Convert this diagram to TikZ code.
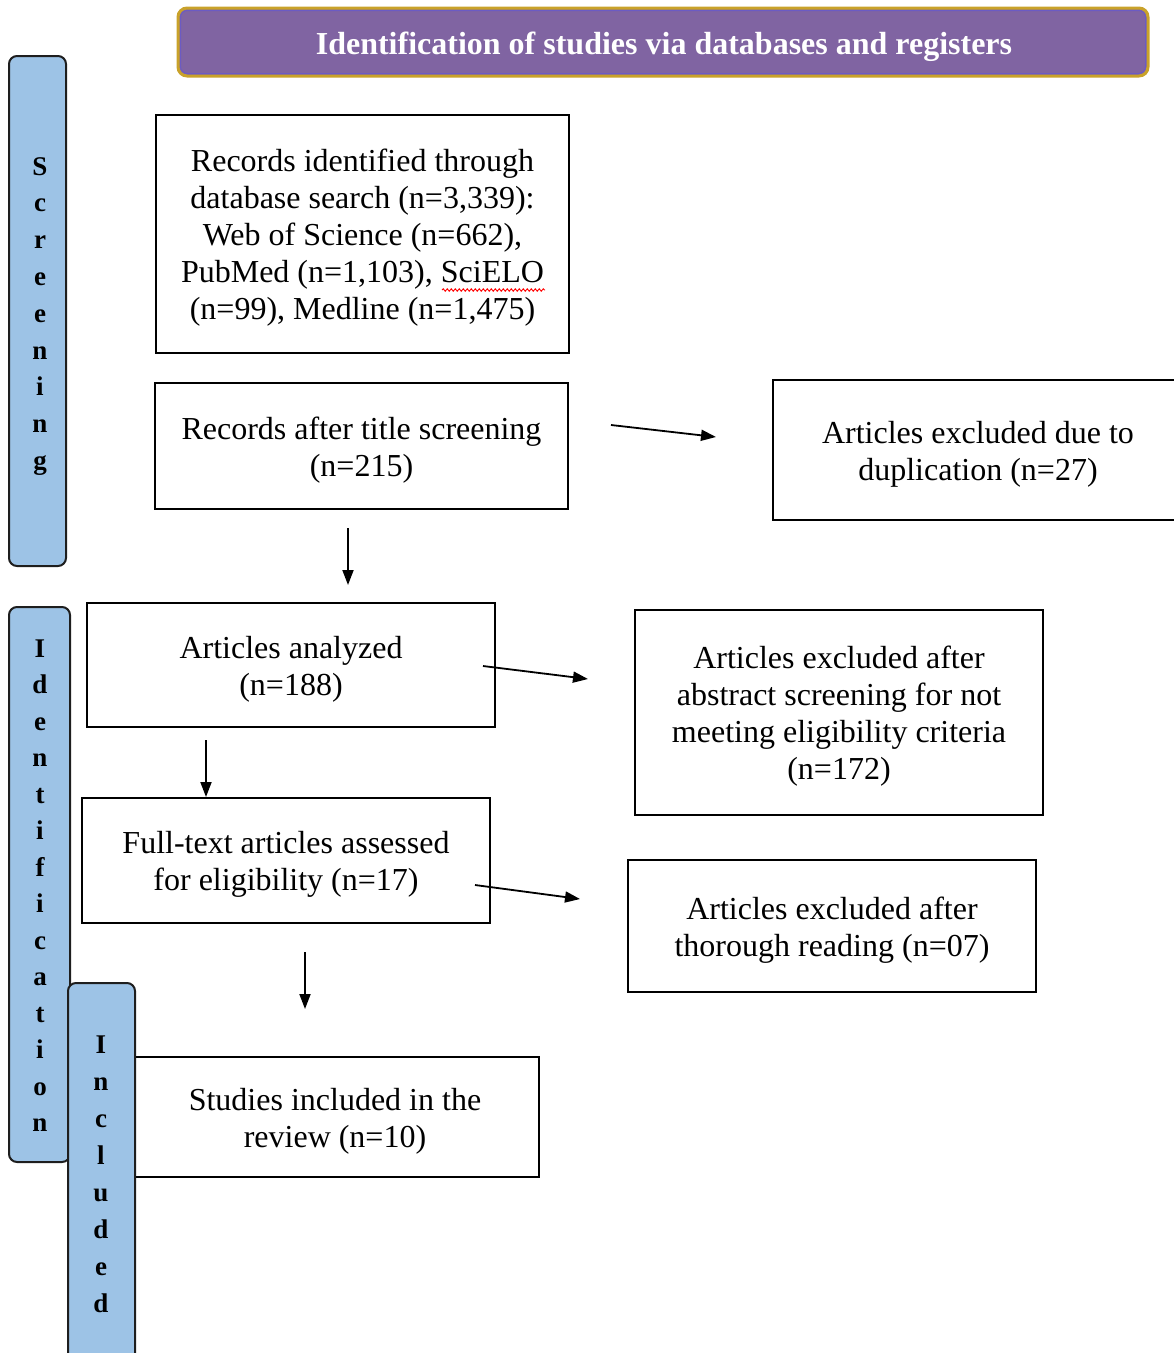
\documentclass[tikz,border=0pt]{standalone}
\usepackage{fontspec}
\setmainfont{Liberation Serif}
\usetikzlibrary{arrows.meta,decorations.pathmorphing}
\definecolor{hdrpurple}{HTML}{8064A2}
\definecolor{hdrgold}{HTML}{C9A22A}
\definecolor{hdrinner}{HTML}{6B5BC4}
\definecolor{barblue}{HTML}{9DC3E6}
\definecolor{barline}{HTML}{1E1E1E}
\newcommand{\boxlines}[1]{\raisebox{-4.5pt}[\height][\depth]{\begin{tabular}{@{}c@{}}#1\end{tabular}}}
\tikzset{
  box/.style={draw=black, line width=2pt, fill=white, align=center, inner sep=0pt,
    font=\fontsize{32}{37}\selectfont},
  sidebar/.style={draw=barline, line width=2pt, fill=barblue, rounded corners=8pt},
  barletter/.style={anchor=base, inner sep=0pt, font=\fontsize{27}{27}\bfseries\selectfont},
  flowarrow/.style={line width=1.8pt, -{Triangle[length=15pt,width=11pt]}},
}
\begin{document}
\begin{tikzpicture}[x=1pt,y=-1pt]
\useasboundingbox (0,0) rectangle (1174,1353);
\clip (0,0) rectangle (1174,1353);

% header
\draw[draw=hdrgold, line width=3pt, fill=hdrpurple, rounded corners=9pt] (178,8) rectangle (1148,76);
\draw[draw=hdrinner, line width=1pt, rounded corners=7pt] (180.5,10.5) rectangle (1145.5,73.5);
\node[text=white, inner sep=0pt, font=\fontsize{32}{32}\bfseries\selectfont] (hdr) at (664,47) {Identification of studies via databases and registers};

% side bars
\draw[sidebar] (9,56) rectangle (66,566);
\foreach \l [count=\i from 0] in {S,c,r,e,e,n,i,n,g}
  \node[barletter] (scr\i) at (40,175+36.8*\i) {\l};

\draw[sidebar] (9,607) rectangle (70,1162);
\foreach \l [count=\i from 0] in {I,d,e,n,t,i,f,i,c,a,t,i,o,n}
  \node[barletter] (idn\i) at (40,657+36.5*\i) {\l};

% boxes
\node[box, minimum width=413pt, minimum height=238pt] (b1) at (362.5,234)
  {\boxlines{Records identified through\\database search (n=3,339):\\Web of Science (n=662),\\PubMed (n=1,103), SciELO\\(n=99), Medline (n=1,475)}};
\draw[red, line width=0.9pt, decorate, decoration={snake, amplitude=1.2pt, segment length=4pt}] (442,290) -- (545,290);

\node[box, minimum width=413pt, minimum height=126pt] (b2) at (361.5,446)
  {\boxlines{Records after title screening\\(n=215)}};
\node[box, minimum width=410pt, minimum height=140pt] (b3) at (978,450)
  {\boxlines{Articles excluded due to\\duplication (n=27)}};
\node[box, minimum width=408pt, minimum height=124pt] (b4) at (291,665)
  {\boxlines{Articles analyzed\\(n=188)}};
\node[box, minimum width=408pt, minimum height=205pt] (b5) at (839,712.5)
  {\boxlines{Articles excluded after\\abstract screening for not\\meeting eligibility criteria\\(n=172)}};
\node[box, minimum width=408pt, minimum height=125pt] (b6) at (286,860.5)
  {\boxlines{Full-text articles assessed\\for eligibility (n=17)}};
\node[box, minimum width=408pt, minimum height=132pt] (b7) at (832,926)
  {\boxlines{Articles excluded after\\thorough reading (n=07)}};
\node[box, minimum width=408pt, minimum height=120pt] (b8) at (335,1117)
  {\boxlines{Studies included in the\\review (n=10)}};

% included bar (on top)
\draw[sidebar] (68,983) rectangle (135,1380);
\foreach \l [count=\i from 0] in {I,n,c,l,u,d,e,d}
  \node[barletter] (inc\i) at (101,1053+37*\i) {\l};

% arrow end points
\coordinate (a1s) at (611,425); \coordinate (a1e) at (716,437);
\coordinate (a2s) at (348,528); \coordinate (a2e) at (348,585);
\coordinate (a3s) at (483,666); \coordinate (a3e) at (588,679);
\coordinate (a4s) at (206,740); \coordinate (a4e) at (206,797);
\coordinate (a5s) at (475,885); \coordinate (a5e) at (580,899);
\coordinate (a6s) at (305,952); \coordinate (a6e) at (305,1009);

\draw[flowarrow] (a1s) -- (a1e);
\draw[flowarrow] (a2s) -- (a2e);
\draw[flowarrow] (a3s) -- (a3e);
\draw[flowarrow] (a4s) -- (a4e);
\draw[flowarrow] (a5s) -- (a5e);
\draw[flowarrow] (a6s) -- (a6e);
\end{tikzpicture}
\end{document}
